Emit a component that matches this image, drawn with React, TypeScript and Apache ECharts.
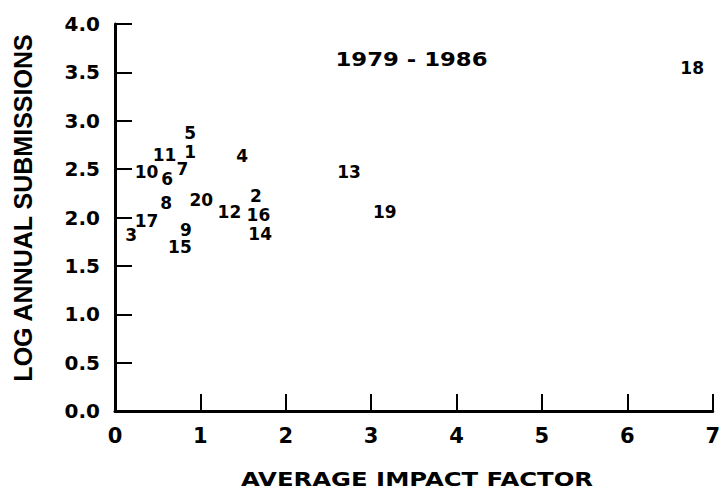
import React, { useEffect, useRef } from "react";
import * as echarts from "echarts";

const journalIds = ["1","2","3","4","5","6","7","8","9","10","11","12","13","14","15","16","17","18","19","20"];
const impactFactor = [0.88, 1.65, 0.19, 1.49, 0.88, 0.61, 0.79, 0.6, 0.83, 0.37, 0.58, 1.34, 2.74, 1.7, 0.76, 1.68, 0.37, 6.76, 3.16, 1.01];
const logSubmissions = [2.68, 2.22, 1.82, 2.64, 2.87, 2.4, 2.5, 2.15, 1.87, 2.47, 2.65, 2.06, 2.47, 1.83, 1.7, 2.03, 1.96, 3.55, 2.06, 2.18];

const xTitle = "AVERAGE IMPACT FACTOR";
const yTitle = "LOG ANNUAL SUBMISSIONS";
const periodLabel = "1979 - 1986";

export default function App() {
  const ref = useRef<HTMLDivElement>(null);
  useEffect(() => {
    if (!ref.current) return;
    const chart = echarts.init(ref.current, undefined, { renderer: "svg" });
    const data = journalIds.map((id, i) => [impactFactor[i], logSubmissions[i], id]);
    chart.setOption({
      animation: false,
      backgroundColor: "#ffffff",
      grid: { left: 115, right: 8, top: 24, bottom: 80 },
      xAxis: {
        type: "value",
        min: 0,
        max: 7,
        interval: 1,
        splitLine: { show: false },
        axisLine: { show: true, onZero: false, lineStyle: { color: "#000", width: 3 } },
        axisTick: { show: true, inside: true, length: 17, lineStyle: { color: "#000", width: 2 } },
        axisLabel: {
          color: "#000",
          fontFamily: "DejaVu Sans",
          fontWeight: "bold",
          fontSize: 21,
          margin: 14,
          showMinLabel: true,
          showMaxLabel: true,
        },
      },
      yAxis: {
        type: "value",
        min: 0,
        max: 4,
        interval: 0.5,
        splitLine: { show: false },
        axisLine: { show: true, onZero: false, lineStyle: { color: "#000", width: 3 } },
        axisTick: { show: true, inside: true, length: 17, lineStyle: { color: "#000", width: 2 } },
        axisLabel: {
          color: "#000",
          fontFamily: "DejaVu Sans",
          fontWeight: "bold",
          fontSize: 20,
          margin: 15,
          formatter: (v: number) => v.toFixed(1),
        },
      },
      graphic: [
        {
          type: "text",
          x: 417,
          y: 479,
          scaleX: 1.28,
          style: {
            text: xTitle,
            fill: "#000",
            font: "bold 19px 'DejaVu Sans'",
            textAlign: "center",
            textVerticalAlign: "middle",
          },
        },
        {
          type: "text",
          x: 22.5,
          y: 208,
          rotation: Math.PI / 2,
          style: {
            text: yTitle,
            fill: "#000",
            font: "bold 25px 'Liberation Sans'",
            textAlign: "center",
            textVerticalAlign: "middle",
          },
        },
        {
          type: "text",
          x: 411.5,
          y: 60,
          scaleX: 1.2,
          style: {
            text: periodLabel,
            fill: "#000",
            font: "bold 19px 'DejaVu Sans'",
            textAlign: "center",
            textVerticalAlign: "middle",
          },
        },
      ],
      series: [
        {
          type: "scatter",
          data,
          symbol: "circle",
          symbolSize: 0,
          itemStyle: { color: "#000" },
          label: {
            show: true,
            position: "inside",
            color: "#000",
            opacity: 1,
            textBorderWidth: 0,
            fontFamily: "DejaVu Sans",
            fontWeight: "bold",
            fontSize: 17,
            formatter: (p: any) => p.value[2],
          },
          labelLayout: { hideOverlap: false },
          emphasis: { disabled: true },
        },
      ],
    });
    return () => chart.dispose();
  }, []);
  return (
    <div
      ref={ref}
      style={{ position: "absolute", left: 0, top: 0, width: 723, height: 491 }}
    />
  );
}
